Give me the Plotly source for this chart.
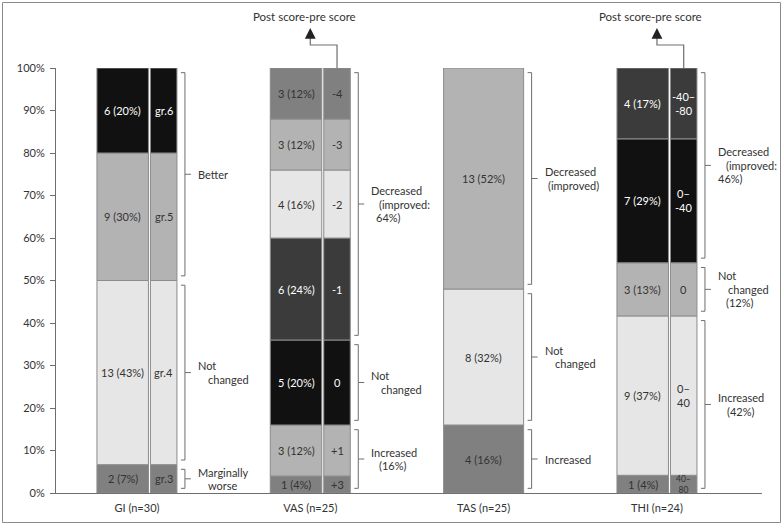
import plotly.graph_objects as go

# ---------------- data ----------------
categories = ["GI (n=30)", "VAS (n=25)", "TAS (n=25)", "THI (n=24)"]
n_total = [30, 25, 25, 24]

gi_counts = [2, 13, 9, 6]
gi_pct_labels = ["7%", "43%", "30%", "20%"]
gi_sub = ["gr.3", "gr.4", "gr.5", "gr.6"]

vas_counts = [1, 3, 5, 6, 4, 3, 3]
vas_pct_labels = ["4%", "12%", "20%", "24%", "16%", "12%", "12%"]
vas_sub = ["+3", "+1", "0", "-1", "-2", "-3", "-4"]

tas_counts = [4, 8, 13]
tas_pct_labels = ["16%", "32%", "52%"]
tas_sub = None

thi_counts = [1, 9, 3, 7, 4]
thi_pct_labels = ["4%", "37%", "13%", "29%", "17%"]
thi_sub = ["40–<br>80", "0–<br>40", "0", "0–<br>-40", "-40–<br>-80"]

# bracket groups: (first segment, last segment, label lines)
gi_groups = [(0, 0, ["Marginally", "worse"]), (1, 1, ["Not", "changed"]), (2, 3, ["Better"])]
vas_groups = [(0, 1, ["Increased", "(16%)"]), (2, 2, ["Not", "changed"]),
              (3, 6, ["Decreased", "(improved:", "64%)"])]
tas_groups = [(0, 0, ["Increased"]), (1, 1, ["Not", "changed"]), (2, 2, ["Decreased", "(improved)"])]
thi_groups = [(0, 1, ["Increased", "(42%)"]), (2, 2, ["Not", "changed", "(12%)"]),
              (3, 4, ["Decreased", "(improved:", "46%)"])]

y_tick_values = list(range(0, 101, 10))
y_tick_labels = [f"{v}%" for v in y_tick_values]

arrow_label = "Post score-pre score"
arrow_categories = [1, 3]

# ---------------- style ----------------
BLACK, DARK, MID, LMID, LIGHT = "#111111", "#3b3b3b", "#808080", "#b3b3b3", "#e6e6e6"
gi_shades = [MID, LIGHT, LMID, BLACK]
vas_shades = [MID, LMID, BLACK, DARK, LIGHT, LMID, MID]
tas_shades = [MID, LIGHT, LMID]
thi_shades = [MID, LIGHT, LMID, BLACK, DARK]

W, H = 784, 525
ML, MR, MT, MB = 56, 22, 68, 32
PW, PH = W - ML - MR, H - MT - MB
X_RANGE = [-0.467, 3.606]
PX = PW / (X_RANGE[1] - X_RANGE[0])  # pixels per category unit


def u(px):
    return px / PX


def yp(py):  # pixel row -> paper y
    return (H - MB - py) / PH


def xp(px):  # pixel column -> paper x
    return (px - ML) / PW


FONT = "Lato, 'Open Sans', sans-serif"
TXT = "#333333"
LINE = "#6e6e6e"

MAIN_OFF, MAIN_W = u(-40), u(51.5)
SUB_OFF, SUB_W = u(13.5), u(26.5)
FULL_OFF, FULL_W = u(-40), u(80)

series = [
    (gi_counts, gi_pct_labels, gi_sub, gi_shades, gi_groups),
    (vas_counts, vas_pct_labels, vas_sub, vas_shades, vas_groups),
    (tas_counts, tas_pct_labels, tas_sub, tas_shades, tas_groups),
    (thi_counts, thi_pct_labels, thi_sub, thi_shades, thi_groups),
]

line_indent = {
    "changed": 10, "worse": 10, "(16%)": 8, "(improved:": 8, "64%)": 5,
    "(improved)": 3, "(42%)": 9, "(12%)": 8, "46%)": 0,
}

fig = go.Figure()
annotations = []
shapes = []

for i, (counts, pcts, subs, shades, groups) in enumerate(series):
    n = n_total[i]
    vals = [c / n * 100 for c in counts]
    bases = [sum(vals[:k]) for k in range(len(vals))]
    xs = [i] * len(vals)
    line = dict(color="#8c8c8c", width=1)
    if subs is None:
        fig.add_trace(go.Bar(x=xs, y=vals, base=bases, offset=FULL_OFF, width=FULL_W,
                             marker=dict(color=shades, line=line), hoverinfo="skip",
                             showlegend=False))
        label_x = i
    else:
        fig.add_trace(go.Bar(x=xs, y=vals, base=bases, offset=MAIN_OFF, width=MAIN_W,
                             marker=dict(color=shades, line=line), hoverinfo="skip",
                             showlegend=False))
        fig.add_trace(go.Bar(x=xs, y=vals, base=bases, offset=SUB_OFF, width=SUB_W,
                             marker=dict(color=shades, line=line), hoverinfo="skip",
                             showlegend=False))
        label_x = i + MAIN_OFF + MAIN_W / 2
    for k, v in enumerate(vals):
        col = "white" if shades[k] in (BLACK, DARK) else TXT
        ymid = bases[k] + v / 2
        annotations.append(dict(x=label_x, y=ymid, xref="x", yref="y", showarrow=False,
                                text=f"{counts[k]} ({pcts[k]})",
                                font=dict(family=FONT, size=11, color=col)))
        if subs is not None:
            small = v < 6 and "<br>" in subs[k]
            annotations.append(dict(x=i + SUB_OFF + SUB_W / 2, y=ymid, xref="x", yref="y",
                                    showarrow=False, text=subs[k],
                                    font=dict(family=FONT, size=8.5 if small else 11, color=col)))
    # brackets
    bx0, bx1, bx2 = i + u(44), i + u(48), i + u(54)
    for (a, b, lines) in groups:
        y0 = bases[a] + 1.1
        y1 = bases[b] + vals[b] - 1.1
        ym = (y0 + y1) / 2
        shapes.append(dict(type="path", xref="x", yref="y",
                           path=f"M {bx0},{y0} L {bx1},{y0} L {bx1},{y1} L {bx0},{y1} M {bx1},{ym} L {bx2},{ym}",
                           line=dict(color=LINE, width=1)))
        nl = len(lines)
        for j, t in enumerate(lines):
            off = (j - (nl - 1) / 2) * 13.5
            annotations.append(dict(x=i + u(59 + (line_indent.get(t, 0) if j > 0 else 0)), y=ym,
                                    xref="x", yref="y", xanchor="left", yanchor="middle",
                                    yshift=-off, showarrow=False, text=t,
                                    font=dict(family=FONT, size=11, color=TXT)))

# "Post score-pre score" arrows
for i in arrow_categories:
    xs = i + SUB_OFF + SUB_W / 2
    xc = i + u(0)
    shapes.append(dict(type="path", xref="x", yref="paper",
                       path=f"M {xs},1 L {xs},{yp(45)} L {xc},{yp(45)} L {xc},{yp(36)}",
                       line=dict(color=LINE, width=1.2)))
    annotations.append(dict(x=xc, y=yp(28), xref="x", yref="paper", ax=0, ay=10,
                            text="", showarrow=True, arrowhead=2, arrowsize=1.8,
                            arrowwidth=1.2, arrowcolor="#222222", standoff=0))
    annotations.append(dict(x=i - u(6), y=yp(17), xref="x", yref="paper",
                            xanchor="center", yanchor="middle", showarrow=False,
                            text=arrow_label, font=dict(family=FONT, size=11.5, color=TXT)))

# outer frame
shapes.append(dict(type="rect", xref="paper", yref="paper",
                   x0=xp(2.5), x1=xp(780.5), y0=yp(522.5), y1=yp(2.5),
                   line=dict(color="#8a8a8a", width=1), layer="above"))

fig.update_layout(
    width=W, height=H,
    margin=dict(l=ML, r=MR, t=MT, b=MB),
    paper_bgcolor="white", plot_bgcolor="white",
    barmode="overlay",
    showlegend=False,
    font=dict(family=FONT, size=11, color=TXT),
    xaxis=dict(range=X_RANGE, tickvals=list(range(len(categories))), ticktext=categories,
               showgrid=False, zeroline=False, showline=True, linecolor=LINE, linewidth=1,
               ticks="outside", ticklen=5, tickcolor="rgba(0,0,0,0)",
               tickfont=dict(family=FONT, size=11, color=TXT)),
    yaxis=dict(range=[0, 100], tickvals=y_tick_values, ticktext=y_tick_labels,
               showgrid=False, zeroline=False, showline=True, linecolor=LINE, linewidth=1,
               ticks="outside", ticklen=5, tickcolor=LINE, ticklabelstandoff=3,
               tickfont=dict(family=FONT, size=11, color=TXT)),
    annotations=annotations,
    shapes=shapes,
)

fig.write_html("out.html", config={"displayModeBar": False},
               post_script="document.body.style.margin='0';document.body.style.overflow='hidden';")
